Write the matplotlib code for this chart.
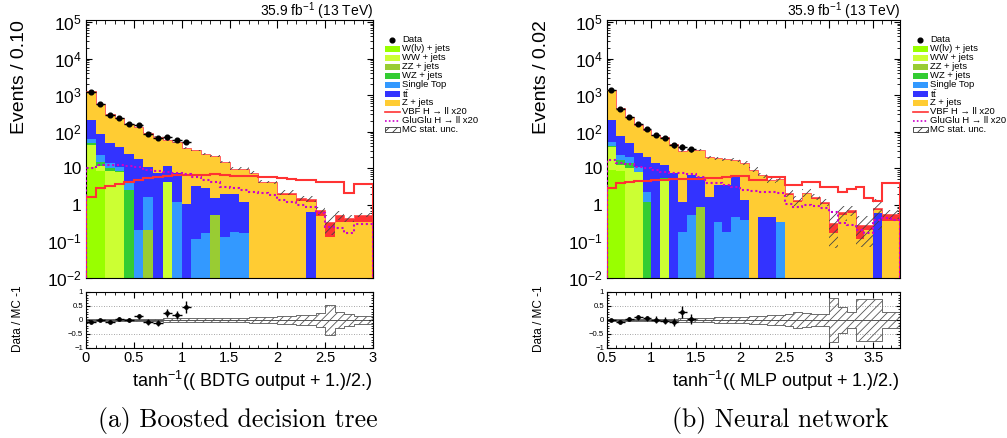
import numpy as np
import matplotlib
matplotlib.use('Agg')
import matplotlib.pyplot as plt
from matplotlib.patches import Rectangle
from matplotlib.lines import Line2D
from matplotlib.ticker import MultipleLocator, FixedLocator, FuncFormatter, LogLocator, NullFormatter

plt.rcParams['font.family'] = ['Liberation Sans', 'DejaVu Sans']
plt.rcParams['mathtext.fontset'] = 'custom'
plt.rcParams['mathtext.rm'] = 'Liberation Sans'
plt.rcParams['mathtext.it'] = 'Liberation Sans:italic'
plt.rcParams['mathtext.bf'] = 'Liberation Sans:bold'
plt.rcParams['hatch.linewidth'] = 0.6

# ------------------------------------------------------------------ data
# (a) BDTG : 30 bins of 0.1 from 0 to 3
bdt_edges = np.round(np.linspace(0.0, 3.0, 31), 2)
bdt_wjets = [11.1, 8.6, 0, 0, 0, 0, 0, 0, 0, 0, 0, 0, 0, 0, 0, 0, 0, 0, 0, 0, 0, 0, 0, 0, 0, 0, 0, 0, 0, 0]
bdt_ww = [31, 3.2, 8.6, 8.1, 0, 0, 0, 0, 4.3, 0, 0, 0, 0, 0, 0, 0, 0, 0, 0, 0, 0, 0, 0, 0, 0, 0, 0, 0, 0, 0]
bdt_zz = [0, 0, 0, 0, 0, 0, 0.21, 0, 0, 0, 0, 0, 0, 0.53, 0, 0, 0, 0, 0, 0, 0, 0, 0, 0, 0, 0, 0, 0, 0, 0]
bdt_wz = [6, 2.8, 1.4, 0.5, 2.55, 0, 0, 0, 0, 0, 0, 0, 0, 0, 0, 0, 0, 0, 0, 0, 0, 0, 0, 0, 0, 0, 0, 0, 0, 0]
bdt_stop = [15, 8.5, 3.7, 2.5, 1.75, 0.21, 1.46, 0, 0, 1.22, 0, 0.12, 0.17, 0, 0.135, 0.185, 0.17, 0, 0, 0,
            0, 0, 0, 0, 0, 0, 0, 0, 0, 0]
bdt_ttbar = [146, 62, 36, 28, 20.3, 17.4, 9.4, 7.3, 7.3, 6.1, 1.06, 3.16, 2.66, 0.98, 1.8, 1.75, 1.05, 0, 0, 0,
             0, 0, 0, 0.63, 0, 0, 0, 0, 0, 0]
bdt_zjets = [1118, 476, 255, 193, 138, 119, 83, 66, 47, 43, 34, 27, 21.8, 20.2, 12.7, 7.5, 8.2, 7.3, 4.05, 3.9,
             1.9, 1.9, 1.27, 0.58, 0.5, 0.13, 0.33, 0.33, 0.35, 0.35]
bdt_vbf_x20 = [1.67, 2.83, 3.28, 3.65, 4.3, 4.8, 5.3, 5.9, 6.3, 6.6, 6.5, 6.7, 6.6, 6.8, 6.6, 6.3, 6.3, 6.2, 5.9, 5.7,
               5.3, 5.1, 4.8, 4.8, 4.3, 4.1, 4.1, 2.07, 3.65, 3.65]
bdt_ggh_x20 = [10.0, 12.3, 12.3, 12.3, 11.8, 11.1, 9.0, 8.6, 8.1, 7.3, 7.0, 5.9, 4.8, 4.3, 3.15, 2.83, 2.55, 2.2,
               2.07, 1.86, 1.36, 1.22, 0.99, 0.89, 0.59, 0.25, 0.23, 0.167, 0.30, 0.30]
bdt_data = [1247, 567, 287, 244, 161, 156, 88, 66, 73, 60, 52]
bdt_unc = [0.02, 0.02, 0.025, 0.025, 0.03, 0.03, 0.03, 0.035, 0.06, 0.06, 0.06, 0.06, 0.06, 0.07, 0.07, 0.08,
           0.08, 0.09, 0.10, 0.10, 0.15, 0.15, 0.17, 0.17, 0.25, 0.55, 0.30, 0.20, 0.15, 0.15]

# (b) MLP : 33 bins of 0.1 from 0.5 to 3.8
mlp_edges = np.round(np.linspace(0.5, 3.8, 34), 2)
mlp_wjets = [9.0, 8.6] + [0] * 31
mlp_ww = [30, 3.7, 10, 8.1, 0, 0, 4.8] + [0] * 26
mlp_zz = [0] * 10 + [0.89] + [0] * 22
mlp_wz = [2, 4.6, 3.7, 0, 1.22, 0, 0.5] + [0] * 26
mlp_stop = [12, 6.2, 7.1, 3.0, 1.08, 0, 0, 0, 0.185, 0.53, 0, 0, 0.35, 0.185, 0.48, 0.39, 0, 0, 0, 0.35,
            0, 0, 0, 0, 0, 0, 0, 0, 0, 0, 0, 0, 0]
mlp_ttbar = [156, 53, 29, 14.5, 18.5, 13.7, 7, 7.3, 1.03, 6.1, 5.0, 1.67, 3.14, 3.3, 5.4, 0.97, 0, 0.48, 0.46, 0,
             0, 0, 0, 0, 0, 0, 0, 0, 0, 0, 0.59, 0, 0]
mlp_zjets = [1175, 360, 198, 127, 90, 67, 57, 39, 29, 25, 25.7, 17.8, 15.2, 14.1, 11, 12.3, 9.0, 5.7, 4.0, 4.5,
             1.9, 1.19, 1.95, 1.46, 1.06, 0.17, 0.53, 0.59, 0.12, 0.21, 0.145, 0.37, 0.37]
mlp_vbf_x20 = [2.83, 4.05, 4.3, 4.5, 4.6, 4.7, 4.8, 5.0, 5.0, 5.0, 5.1, 5.3, 5.5, 5.9, 6.2, 6.2, 4.8, 4.8, 5.7,
               5.9, 3.5, 3.5, 4.3, 4.3, 3.15, 3.15, 2.3, 2.67, 3.15, 1.51, 1.3, 3.88, 3.88]
mlp_ggh_x20 = [16.9, 13.7, 13.2, 11.1, 10.0, 9.0, 8.1, 7.3, 7.3, 7.0, 5.9, 4.05, 4.05, 3.5, 3.15, 2.55, 2.45, 2.3,
               2.2, 2.16, 1.06, 0.89, 0.99, 0.93, 0.80, 0.65, 0.31, 0.28, 0.21, 0.167, 0.39, 0.43, 0.39]
mlp_data = [1370, 410, 260, 167, 117, 82, 68, 43, 39, 33]
mlp_unc = [0.02, 0.03, 0.03, 0.03, 0.04, 0.04, 0.04, 0.05, 0.06, 0.06, 0.07, 0.08, 0.09, 0.10, 0.11, 0.12, 0.14,
           0.16, 0.17, 0.18, 0.22, 0.30, 0.25, 0.20, 0.22, 0.80, 0.45, 0.30, 0.75, 0.75, 0.75, 0.28, 0.28]

bkg_labels = ['W(lν) + jets', 'WW + jets', 'ZZ + jets', 'WZ + jets', 'Single Top',
              r'$\mathregular{t\bar{t}}$', 'Z + jets']
bkg_colors = ['#99ff00', '#ccff33', '#99cc33', '#33cc33', '#3399ff', '#3333ff', '#ffcc33']
vbf_color = '#ff3333'
ggh_color = '#cc00cc'

W, H = 1007, 438
fig = plt.figure(figsize=(W / 100, H / 100), dpi=100)


def fx(px):
    return px / W


def fy(py):
    return 1 - py / H


def logfmt(v, pos):
    e = int(round(np.log10(v)))
    if e == 0:
        return '1'
    if e == 1:
        return '10'
    return r'$\mathregular{10^{%d}}$' % e


def ratiofmt(v, pos):
    s = '%g' % abs(v)
    return ('\u2212' + s) if v < 0 else s


YMIN, YMAX = 1e-2, 1.13e5
FLOOR = 1e-5


def panel(x0, x1, edges, comps, vbf_x20, ggh_x20, data, unc, xmajor, ylabel, xlabel, lumi_x):
    ax = fig.add_axes([fx(x0), fy(278), fx(x1 - x0), (278 - 20) / H])
    rax = fig.add_axes([fx(x0), fy(348), fx(x1 - x0), (348 - 292) / H])
    edges = np.asarray(edges)
    centers = 0.5 * (edges[:-1] + edges[1:])
    layers = [np.asarray(c, float) for c in comps] + [np.asarray(vbf_x20, float) / 20.0]
    colors = bkg_colors + [vbf_color]
    cum = np.cumsum(layers, axis=0)
    total = cum[-1]
    for k in reversed(range(len(layers))):
        vals = np.where(cum[k] > 0, cum[k], FLOOR)
        ax.stairs(vals, edges, baseline=FLOOR, fill=True, color=colors[k], lw=0, zorder=2)
    ax.stairs(total, edges, baseline=None, color='#ff6060', lw=0.7, zorder=3)
    u = np.asarray(unc, float)
    hi = np.append(total * (1 + u), total[-1] * (1 + u[-1]))
    lo = np.append(np.maximum(total * (1 - u), FLOOR), max(total[-1] * (1 - u[-1]), FLOOR))
    ax.fill_between(edges, lo, hi, step='post', facecolor='none', edgecolor='#444444',
                    hatch='////', lw=0, zorder=4)
    ax.stairs(vbf_x20, edges, baseline=FLOOR, color=vbf_color, lw=1.5, zorder=5)
    ax.stairs(ggh_x20, edges, baseline=FLOOR, color=ggh_color, lw=1.5, ls=(0, (1, 1.3)), zorder=5)
    d = np.asarray(data, float)
    n = len(d)
    bw = edges[1] - edges[0]
    ax.errorbar(centers[:n], d, xerr=bw / 2, yerr=np.sqrt(d), fmt='o', color='k', ms=3.4,
                lw=1.0, capsize=0, zorder=6)
    ax.set_yscale('log')
    ax.set_ylim(YMIN, YMAX)
    ax.set_xlim(edges[0], edges[-1])
    ax.yaxis.set_major_locator(LogLocator(base=10, numticks=20))
    ax.yaxis.set_minor_locator(LogLocator(base=10, subs=np.arange(2, 10), numticks=20))
    ax.yaxis.set_major_formatter(FuncFormatter(logfmt))
    ax.yaxis.set_minor_formatter(NullFormatter())
    ax.xaxis.set_major_locator(MultipleLocator(0.5))
    ax.xaxis.set_minor_locator(MultipleLocator(0.1))
    ax.tick_params(which='both', direction='in', top=True, right=True, labelbottom=False)
    ax.tick_params(axis='x', which='major', length=5.8)
    ax.tick_params(axis='x', which='minor', length=2.9)
    ax.tick_params(axis='y', which='major', length=4.6, labelsize=12.5, pad=3)
    ax.tick_params(axis='y', which='minor', length=2.3)

    # ratio
    ratio = d / total[:n] - 1
    rerr = np.sqrt(d) / total[:n]
    ue = np.append(u, u[-1])
    rax.fill_between(edges, -ue, ue, step='post', facecolor='none', edgecolor='#555555',
                     hatch='////', lw=0.6, zorder=2)
    for yv in (0.5, -0.5):
        rax.axhline(yv, color='#888888', lw=0.6, ls=(0, (1, 2)), zorder=1)
    rax.axhline(0, color='#555555', lw=0.7, zorder=1)
    rax.errorbar(centers[:n], ratio, xerr=bw / 2, yerr=rerr, fmt='o', color='k', ms=2.4,
                 lw=1.0, capsize=0, zorder=5)
    rax.set_ylim(-1, 1)
    rax.set_xlim(edges[0], edges[-1])
    rax.yaxis.set_major_locator(FixedLocator([-1, -0.5, 0, 0.5, 1]))
    rax.yaxis.set_minor_locator(MultipleLocator(0.1))
    rax.yaxis.set_major_formatter(FuncFormatter(ratiofmt))
    rax.xaxis.set_major_locator(FixedLocator(xmajor))
    rax.xaxis.set_minor_locator(MultipleLocator(0.1))
    rax.xaxis.set_major_formatter(FuncFormatter(lambda v, p: '%g' % v))
    rax.tick_params(which='both', direction='in', top=True, right=True)
    rax.tick_params(axis='x', which='major', length=4.3, labelsize=10.5, pad=2.5)
    rax.tick_params(axis='x', which='minor', length=2.2)
    rax.tick_params(axis='y', which='major', length=3.2, labelsize=5.6, pad=2)
    rax.tick_params(axis='y', which='minor', length=1.6)
    for a in (ax, rax):
        for s in a.spines.values():
            s.set_linewidth(0.8)

    fig.text(fx(x0 - 66), fy(20), ylabel, rotation=90, ha='center', va='top', fontsize=14)
    fig.text(fx(x0 - 68), fy(319), 'Data / MC -1', rotation=90, ha='center', va='center', fontsize=8.5)
    fig.text(fx(x1), fy(381), xlabel, ha='right', va='center', fontsize=13)
    fig.text(fx(lumi_x), fy(11), r'35.9 fb$^{\mathregular{-1}}$ (13 TeV)', ha='right', va='center',
             fontsize=10)


def legend(box_x):
    y0, dy = 40, 8.95
    lab_fs = 6.8
    tx = box_x + 17
    # Data
    fig.add_artist(Line2D([fx(box_x + 7)], [fy(y0)], transform=fig.transFigure, marker='o', ms=3.4,
                          color='k', lw=0))
    fig.text(fx(tx), fy(y0), 'Data', fontsize=lab_fs, va='center', ha='left')
    for i, (lab, col) in enumerate(zip(bkg_labels, bkg_colors)):
        y = y0 + dy * (i + 1)
        fig.add_artist(Rectangle((fx(box_x), fy(y + 2.9)), 15 / W, 5.8 / H, transform=fig.transFigure,
                                 facecolor=col, edgecolor='none'))
        fig.text(fx(tx), fy(y), lab, fontsize=lab_fs, va='center', ha='left')
    y = y0 + dy * 8
    fig.add_artist(Line2D([fx(box_x), fx(box_x + 15)], [fy(y), fy(y)], transform=fig.transFigure,
                          color=vbf_color, lw=1.2))
    fig.text(fx(tx), fy(y), 'VBF H → ll x20', fontsize=lab_fs, va='center', ha='left')
    y = y0 + dy * 9
    fig.add_artist(Line2D([fx(box_x), fx(box_x + 15)], [fy(y), fy(y)], transform=fig.transFigure,
                          color=ggh_color, lw=1.2, ls=(0, (1, 1.3))))
    fig.text(fx(tx), fy(y), 'GluGlu H → ll x20', fontsize=lab_fs, va='center', ha='left')
    y = y0 + dy * 10
    fig.add_artist(Rectangle((fx(box_x), fy(y + 2.9)), 15 / W, 5.8 / H, transform=fig.transFigure,
                             facecolor='white', edgecolor='#333333', hatch='////', lw=0.6))
    fig.text(fx(tx), fy(y), 'MC stat. unc.', fontsize=lab_fs, va='center', ha='left')


bdt_comps = [bdt_wjets, bdt_ww, bdt_zz, bdt_wz, bdt_stop, bdt_ttbar, bdt_zjets]
mlp_comps = [mlp_wjets, mlp_ww, mlp_zz, mlp_wz, mlp_stop, mlp_ttbar, mlp_zjets]

panel(86, 373, bdt_edges, bdt_comps, bdt_vbf_x20, bdt_ggh_x20, bdt_data, bdt_unc,
      [0, 0.5, 1, 1.5, 2, 2.5, 3], 'Events / 0.10',
      r'tanh$^{\mathregular{-1}}$(( BDTG output + 1.)/2.)', 373)
panel(607, 900, mlp_edges, mlp_comps, mlp_vbf_x20, mlp_ggh_x20, mlp_data, mlp_unc,
      [0.5, 1, 1.5, 2, 2.5, 3, 3.5], 'Events / 0.02',
      r'tanh$^{\mathregular{-1}}$(( MLP output + 1.)/2.)', 900)
legend(385)
legend(913)

fig.text(fx(238), fy(420), '(a) Boosted decision tree', family='cmr10', fontsize=18.5, ha='center', va='center')
fig.text(fx(780), fy(420), '(b) Neural network', family='cmr10', fontsize=18.5, ha='center', va='center')

fig.savefig('out.png', dpi=100)
